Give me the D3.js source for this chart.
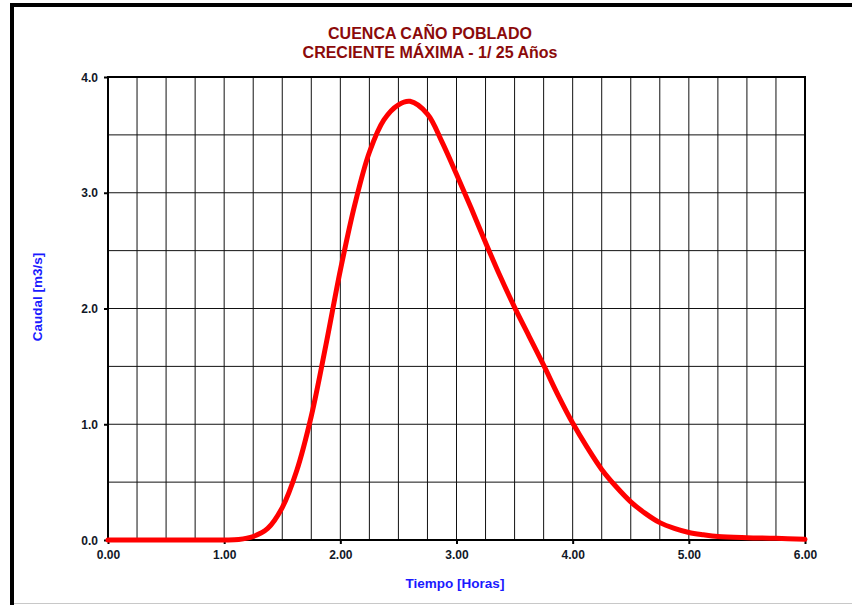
<!DOCTYPE html>
<html>
<head>
<meta charset="utf-8">
<script src="https://cdn.jsdelivr.net/npm/d3@7"></script>
<style>
  html, body { margin: 0; padding: 0; background: #fff; }
  svg { display: block; }
</style>
</head>
<body>
<svg id="chart" width="852" height="605"></svg>
<script>
// ---- Data ----
const titleLines = ["CUENCA CAÑO POBLADO", "CRECIENTE MÁXIMA - 1/ 25 Años"];
const xLabel = "Tiempo [Horas]";
const yLabel = "Caudal [m3/s]";
const timeHours = [0, 0.25, 0.5, 0.75, 1.0, 1.125, 1.25, 1.375, 1.5, 1.625, 1.75, 1.875, 2.0, 2.125, 2.25, 2.375, 2.5, 2.6, 2.75, 2.875, 3.0, 3.125, 3.25, 3.375, 3.5, 3.625, 3.75, 3.875, 4.0, 4.125, 4.25, 4.375, 4.5, 4.625, 4.75, 4.875, 5.0, 5.125, 5.25, 5.5, 5.75, 6.0];
const flow = [0, 0, 0, 0, 0, 0.004, 0.03, 0.10, 0.28, 0.60, 1.07, 1.68, 2.33, 2.90, 3.35, 3.63, 3.76, 3.79, 3.68, 3.44, 3.16, 2.87, 2.57, 2.28, 2.01, 1.76, 1.51, 1.25, 1.01, 0.80, 0.61, 0.46, 0.33, 0.23, 0.15, 0.10, 0.065, 0.045, 0.03, 0.02, 0.015, 0.006];
const xTickValues = [0, 1, 2, 3, 4, 5, 6];
const yTickValues = [0, 1, 2, 3, 4];
const xGridValues = d3.range(0, 6.0001, 0.25);
const yGridValues = d3.range(0, 4.0001, 0.5);

// ---- Layout ----
const svg = d3.select("#chart");
const L = 108, R = 805, T = 77, B = 540;
const x = d3.scaleLinear().domain([0, 6]).range([L, R]);
const y = d3.scaleLinear().domain([0, 4]).range([B, T]);

// outer frame
svg.append("line").attr("x1", 12).attr("x2", 12).attr("y1", 3).attr("y2", 605)
  .attr("stroke", "#000").attr("stroke-width", 4);
svg.append("line").attr("x1", 10).attr("x2", 852).attr("y1", 5).attr("y2", 5)
  .attr("stroke", "#000").attr("stroke-width", 4);
svg.append("line").attr("x1", 14).attr("x2", 852).attr("y1", 603.5).attr("y2", 603.5)
  .attr("stroke", "#c8c8c8").attr("stroke-width", 1);

// grid
const grid = svg.append("g");
grid.selectAll("line.v").data(xGridValues).join("line")
  .attr("x1", d => x(d)).attr("x2", d => x(d)).attr("y1", T).attr("y2", B)
  .attr("stroke", "#111").attr("stroke-width", 1);
grid.selectAll("line.h").data(yGridValues).join("line")
  .attr("y1", d => y(d)).attr("y2", d => y(d)).attr("x1", L).attr("x2", R)
  .attr("stroke", "#111").attr("stroke-width", 1);

// plot border
svg.append("rect").attr("x", L).attr("y", T).attr("width", R - L).attr("height", B - T)
  .attr("fill", "none").attr("stroke", "#000").attr("stroke-width", 2);

// axes
const tickFont = "bold 12px Arial, 'Liberation Sans', sans-serif";
const xAxis = svg.append("g").attr("transform", `translate(0,${B})`)
  .call(d3.axisBottom(x).tickValues(xTickValues).tickFormat(d3.format(".2f")).tickSize(4).tickPadding(6));
const yAxis = svg.append("g").attr("transform", `translate(${L},0)`)
  .call(d3.axisLeft(y).tickValues(yTickValues).tickFormat(d3.format(".1f")).tickSize(4).tickPadding(6));
[xAxis, yAxis].forEach(a => {
  a.select(".domain").remove();
  a.selectAll(".tick line").attr("stroke", "#000").attr("stroke-width", 2);
  a.selectAll(".tick text").style("font", tickFont).attr("fill", "#111827");
});
yAxis.selectAll(".tick text").attr("dy", "0.35em");

// line
const line = d3.line().x((d, i) => x(timeHours[i])).y(d => y(Math.max(0, d))).curve(d3.curveCatmullRom.alpha(0.5));
svg.append("path").datum(flow).attr("d", line)
  .attr("fill", "none").attr("stroke", "#ff0000").attr("stroke-width", 5)
  .attr("stroke-linejoin", "round").attr("stroke-linecap", "round");

// titles
svg.append("g").selectAll("text").data(titleLines).join("text")
  .attr("x", 430).attr("y", (d, i) => 39 + i * 19)
  .attr("text-anchor", "middle")
  .style("font", "bold 16px Arial, 'Liberation Sans', sans-serif")
  .attr("fill", "#8b0a0a")
  .text(d => d);

svg.append("text").attr("x", 455).attr("y", 588).attr("text-anchor", "middle")
  .style("font", "bold 13.5px Arial, 'Liberation Sans', sans-serif").attr("fill", "#1a1aff")
  .text(xLabel);
svg.append("text").attr("transform", "translate(42,297) rotate(-90)").attr("text-anchor", "middle")
  .style("font", "bold 13.5px Arial, 'Liberation Sans', sans-serif").attr("fill", "#1a1aff")
  .text(yLabel);
</script>
</body>
</html>
